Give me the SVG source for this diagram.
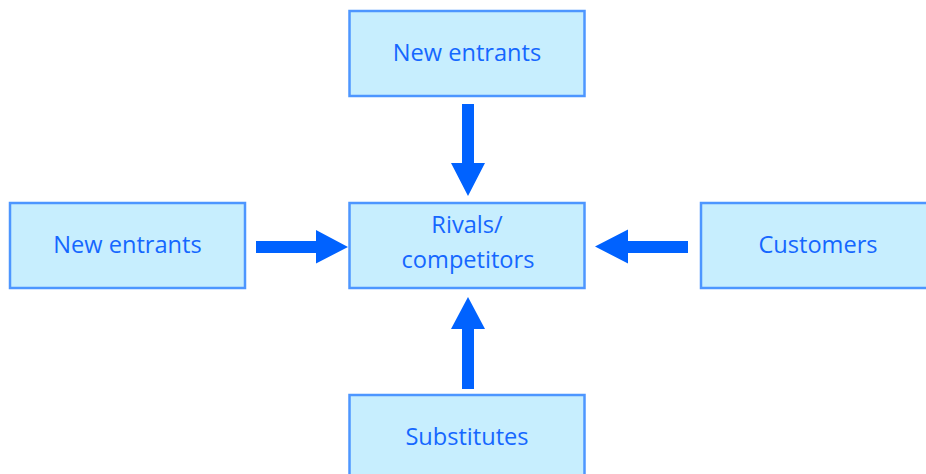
<svg xmlns="http://www.w3.org/2000/svg" width="926" height="474" viewBox="0 0 926 474">
<style>
.box{fill:#c7eefe;stroke:#4d96ff;stroke-width:2.5}
.lbl{font-family:"Open Sans","Noto Sans",sans-serif;font-size:23.6px;fill:#1567ff;text-anchor:middle}
.arr{fill:#0062ff}
</style>
<rect width="926" height="474" fill="#ffffff"/>
<g id="top"><rect class="box" x="349.5" y="11" width="235" height="85"/><text class="lbl" x="467" y="61">New entrants</text></g>
<g id="left"><rect class="box" x="10" y="203" width="235" height="85"/><text class="lbl" x="127.5" y="253">New entrants</text></g>
<g id="center"><rect class="box" x="349.5" y="203" width="235" height="85"/><text class="lbl" x="467" y="233">Rivals/</text><text class="lbl" x="468" y="268">competitors</text></g>
<g id="right"><rect class="box" x="701" y="203" width="236" height="85"/><text class="lbl" x="818" y="252.5">Customers</text></g>
<g id="bottom"><rect class="box" x="349.5" y="395" width="235" height="90"/><text class="lbl" x="467" y="445">Substitutes</text></g>
<g id="connectors">
<polygon class="arr" points="462,104 474,104 474,163 485,163 468,196 451,163 462,163"/>
<polygon class="arr" points="256,241 316,241 316,230 348,247 316,263.5 316,253 256,253"/>
<polygon class="arr" points="688,241 628,241 628,229.5 595,246.5 628,263.5 628,253 688,253"/>
<polygon class="arr" points="462,389 474,389 474,329 485,329 468,297 451,329 462,329"/>
</g>
</svg>
